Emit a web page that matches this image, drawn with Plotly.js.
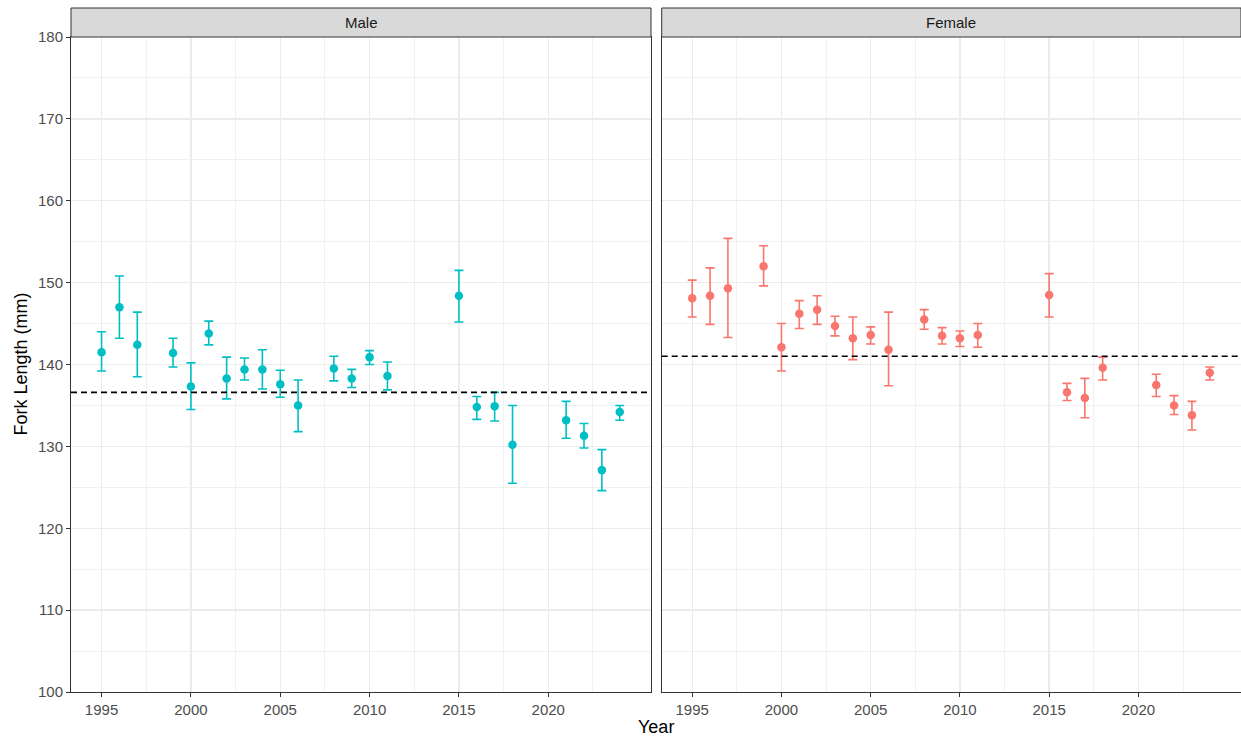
<!DOCTYPE html>
<html>
<head>
<meta charset="utf-8">
<script src="https://cdn.plot.ly/plotly-3.0.1.min.js"></script>
<style>html,body{margin:0;padding:0;background:#fff;}#chart{width:1241px;height:738px;}</style>
</head>
<body>
<div id="chart"></div>
<script>
// ---- Data ----
const maleYears  = [1995,1996,1997,1999,2000,2001,2002,2003,2004,2005,2006,2008,2009,2010,2011,2015,2016,2017,2018,2021,2022,2023,2024];
const maleMean   = [141.5,147.0,142.4,141.4,137.3,143.8,138.3,139.4,139.4,137.6,135.0,139.5,138.3,140.9,138.6,148.4,134.8,134.9,130.2,133.2,131.3,127.1,134.2];
const maleUpper  = [144.0,150.8,146.4,143.2,140.2,145.3,140.9,140.8,141.8,139.3,138.1,141.0,139.4,141.7,140.3,151.5,136.1,136.6,135.0,135.5,132.8,129.6,135.0];
const maleLower  = [139.2,143.2,138.5,139.7,134.5,142.4,135.8,138.1,137.0,136.0,131.8,138.0,137.2,140.0,136.9,145.2,133.3,133.1,125.5,131.0,129.8,124.6,133.2];
const maleOverall = 136.6;

const femaleYears = [1995,1996,1997,1999,2000,2001,2002,2003,2004,2005,2006,2008,2009,2010,2011,2015,2016,2017,2018,2021,2022,2023,2024];
const femaleMean  = [148.1,148.4,149.3,152.0,142.1,146.2,146.7,144.7,143.2,143.6,141.8,145.5,143.5,143.2,143.6,148.5,136.6,135.9,139.6,137.5,135.0,133.8,139.0];
const femaleUpper = [150.3,151.8,155.4,154.5,145.0,147.8,148.4,145.9,145.8,144.6,146.4,146.7,144.5,144.1,145.0,151.1,137.7,138.3,140.9,138.8,136.2,135.5,139.7];
const femaleLower = [145.8,144.9,143.3,149.6,139.2,144.4,144.9,143.5,140.6,142.5,137.4,144.3,142.5,142.2,142.1,145.8,135.6,133.5,138.1,136.1,133.9,132.0,138.1];
const femaleOverall = 141.0;

const xTickVals = [1995, 2000, 2005, 2010, 2015, 2020];
const xMinorVals = [1997.5, 2002.5, 2007.5, 2012.5, 2017.5, 2022.5];
const yTickVals = [100, 110, 120, 130, 140, 150, 160, 170, 180];
const yMinorVals = [105, 115, 125, 135, 145, 155, 165, 175];

const panelLabels = ["Male", "Female"];
const xTitle = "Year";
const yTitle = "Fork Length (mm)";

// ---- Styling ----
const FONT = "Liberation Sans, Arial, sans-serif";
const maleColor = "#00BFC4";
const femaleColor = "#F8766D";

function diff(a, b) { return a.map((v, i) => v - b[i]); }

function seriesTrace(x, mean, up, lo, color, xa, ya) {
  return {
    type: "scatter", mode: "markers", x: x, y: mean, xaxis: xa, yaxis: ya,
    marker: {color: color, size: 8.5},
    error_y: {type: "data", symmetric: false, array: diff(up, mean), arrayminus: diff(mean, lo),
              color: color, thickness: 1.6, width: 4.5},
    showlegend: false, hoverinfo: "x+y"
  };
}

const traces = [
  seriesTrace(maleYears, maleMean, maleUpper, maleLower, maleColor, "x", "y"),
  seriesTrace(femaleYears, femaleMean, femaleUpper, femaleLower, femaleColor, "x2", "y2")
];

const xRange = [1993.29, 2025.75];
const gridC = "#EBEBEB";
function xAxis(domain, anchor) {
  return {
    domain: domain, anchor: anchor, range: xRange, tickmode: "array", tickvals: xTickVals,
    showgrid: true, gridcolor: gridC, gridwidth: 1.4,
    minor: {tickmode: "array", tickvals: xMinorVals, showgrid: true, gridcolor: gridC, gridwidth: 0.7},
    zeroline: false, showline: true, mirror: true, linecolor: "#333333", linewidth: 1,
    ticks: "outside", ticklen: 4, tickwidth: 1, tickcolor: "#333333",
    tickfont: {family: FONT, size: 15, color: "#4D4D4D"}, fixedrange: true
  };
}
function yAxis(anchor, labels) {
  return {
    anchor: anchor, range: [100, 180], tickmode: "array", tickvals: yTickVals,
    showgrid: true, gridcolor: gridC, gridwidth: 1.4,
    minor: {tickmode: "array", tickvals: yMinorVals, showgrid: true, gridcolor: gridC, gridwidth: 0.7},
    zeroline: false, showline: true, mirror: true, linecolor: "#333333", linewidth: 1,
    ticks: labels ? "outside" : "", ticklen: 4, tickwidth: 1, tickcolor: "#333333",
    showticklabels: labels,
    tickfont: {family: FONT, size: 15, color: "#4D4D4D"}, fixedrange: true
  };
}

const plotW = 1241 - 71;
const leftDom = [0, 580 / plotW];
const rightDom = [(661.7 - 71) / plotW, 1];
const plotH = 655;
const stripTop = 1 + 29 / plotH;

const layout = {
  width: 1241, height: 738,
  margin: {l: 71, r: 0, t: 37, b: 46},
  paper_bgcolor: "#FFFFFF", plot_bgcolor: "#FFFFFF",
  font: {family: FONT},
  showlegend: false,
  xaxis: xAxis(leftDom, "y"),
  yaxis: yAxis("x", true),
  xaxis2: xAxis(rightDom, "y2"),
  yaxis2: Object.assign(yAxis("x2", false), {matches: "y"}),
  shapes: [
    {type: "rect", xref: "x domain", yref: "paper", x0: 0, x1: 1, y0: 1, y1: stripTop,
     fillcolor: "#D9D9D9", line: {color: "#333333", width: 1}},
    {type: "rect", xref: "x2 domain", yref: "paper", x0: 0, x1: 1, y0: 1, y1: stripTop,
     fillcolor: "#D9D9D9", line: {color: "#333333", width: 1}},
    {type: "line", xref: "x domain", yref: "y", x0: 0, x1: 1, y0: maleOverall, y1: maleOverall,
     line: {color: "#000000", width: 1.6, dash: "6px,4px"}, layer: "above"},
    {type: "line", xref: "x2 domain", yref: "y2", x0: 0, x1: 1, y0: femaleOverall, y1: femaleOverall,
     line: {color: "#000000", width: 1.6, dash: "6px,4px"}, layer: "above"}
  ],
  annotations: [
    {text: panelLabels[0], xref: "x domain", yref: "paper", x: 0.5, y: (1 + stripTop) / 2,
     xanchor: "center", yanchor: "middle", showarrow: false,
     font: {family: FONT, size: 15, color: "#1A1A1A"}},
    {text: panelLabels[1], xref: "x2 domain", yref: "paper", x: 0.5, y: (1 + stripTop) / 2,
     xanchor: "center", yanchor: "middle", showarrow: false,
     font: {family: FONT, size: 15, color: "#1A1A1A"}},
    {text: xTitle, xref: "paper", yref: "paper", x: 0.5, y: -(727 - 692) / plotH,
     xanchor: "center", yanchor: "middle", showarrow: false,
     font: {family: FONT, size: 18, color: "#000000"}},
    {text: yTitle, xref: "paper", yref: "paper", x: -(71 - 20) / plotW, y: 0.5,
     xanchor: "center", yanchor: "middle", showarrow: false, textangle: -90,
     font: {family: FONT, size: 18, color: "#000000"}}
  ]
};

Plotly.newPlot("chart", traces, layout, {displayModeBar: false, staticPlot: true});
</script>
</body>
</html>
